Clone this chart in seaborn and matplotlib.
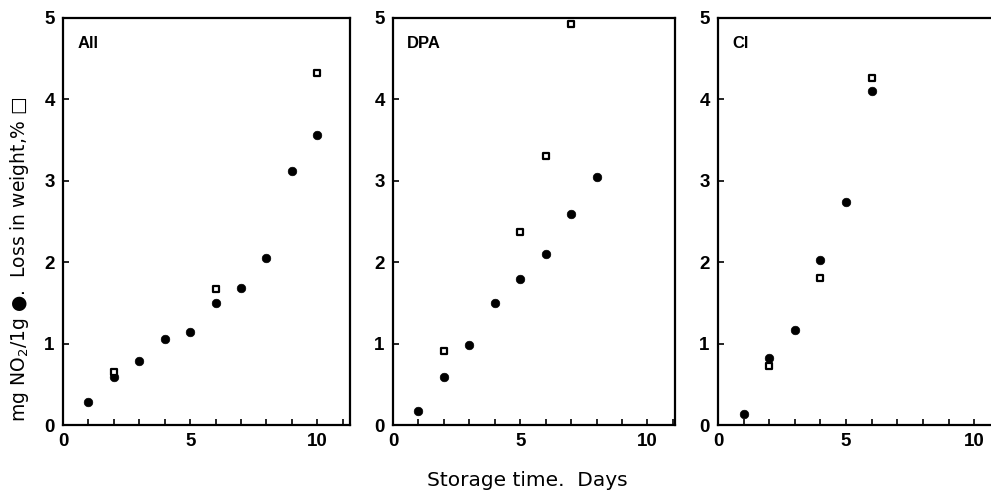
import numpy as np
import pandas as pd
import matplotlib
matplotlib.use("Agg")
import matplotlib.pyplot as plt
import seaborn as sns
from matplotlib.ticker import MultipleLocator

panels = ["All", "DPA", "Cl"]

all_days_no2 = [1, 2, 3, 4, 5, 6, 7, 8, 9, 10]
all_no2 = [0.28, 0.59, 0.79, 1.06, 1.14, 1.50, 1.68, 2.05, 3.12, 3.56]
all_days_loss = [2, 6, 10]
all_loss = [0.65, 1.67, 4.32]

dpa_days_no2 = [1, 2, 3, 4, 5, 6, 7, 8]
dpa_no2 = [0.17, 0.59, 0.98, 1.50, 1.79, 2.10, 2.59, 3.05]
dpa_days_loss = [2, 5, 6, 7]
dpa_loss = [0.91, 2.37, 3.30, 4.93]

cl_days_no2 = [1, 2, 3, 4, 5, 6]
cl_no2 = [0.14, 0.82, 1.17, 2.03, 2.74, 4.10]
cl_days_loss = [2, 4, 6]
cl_loss = [0.73, 1.80, 4.26]

data = {
    "All": (all_days_no2, all_no2, all_days_loss, all_loss),
    "DPA": (dpa_days_no2, dpa_no2, dpa_days_loss, dpa_loss),
    "Cl": (cl_days_no2, cl_no2, cl_days_loss, cl_loss),
}

sns.set_style("ticks", {"axes.edgecolor": "black", "text.color": "black",
                        "xtick.color": "black", "ytick.color": "black"})
plt.rcParams["font.family"] = ["Liberation Sans", "DejaVu Sans"]

fig = plt.figure(figsize=(9.91, 4.91), dpi=100)
boxes = [
    (0.0636, 0.1344, 0.290, 0.829, 11.3),
    (0.3966, 0.1344, 0.285, 0.829, 11.1),
    (0.7245, 0.1344, 0.300, 0.829, 11.6),
]

for name, (l, b, w, h, xmax) in zip(panels, boxes):
    ax = fig.add_axes([l, b, w, h])
    dn, yn, dl, yl = data[name]
    df_no2 = pd.DataFrame({"day": dn, "val": yn})
    df_loss = pd.DataFrame({"day": dl, "val": yl})
    sns.scatterplot(data=df_no2, x="day", y="val", ax=ax, color="black",
                    marker="o", s=38, edgecolor="black", linewidth=0.5, zorder=3)
    sns.scatterplot(data=df_loss, x="day", y="val", ax=ax, color="white",
                    marker="s", s=18, edgecolor="black", linewidth=1.6, zorder=4)
    ax.set_xlim(0, xmax)
    ax.set_ylim(0, 5)
    ax.set_xticks([0, 5, 10])
    ax.xaxis.set_minor_locator(MultipleLocator(1))
    ax.set_yticks([0, 1, 2, 3, 4, 5])
    ax.tick_params(which="both", direction="in", length=4, width=1.2,
                   labelsize=13.5, pad=6, colors="black")
    for lab in ax.get_xticklabels() + ax.get_yticklabels():
        lab.set_fontweight("bold")
    ax.set_xlabel("")
    ax.set_ylabel("")
    for sp in ax.spines.values():
        sp.set_visible(True)
        sp.set_linewidth(1.6)
        sp.set_color("black")
    ax.text(0.05, 0.955, name, transform=ax.transAxes, fontsize=12,
            fontweight="bold", va="top", ha="left", color="black")

fig.text(0.532, 0.022, "Storage time.  Days", ha="center", va="center",
         fontsize=14.5, family=["DejaVu Sans"], color="black")
fig.text(0.02, 0.473, "mg NO$_2$/1g \u25cf.  Loss in weight,% \u25a1",
         rotation=90, ha="center", va="center", fontsize=13.5,
         family=["DejaVu Sans"], color="black")

fig.savefig("out.png", dpi=100, facecolor="white")
